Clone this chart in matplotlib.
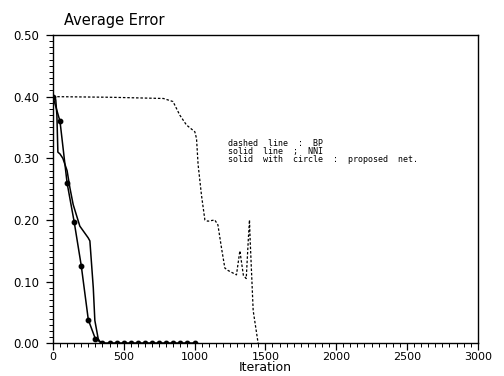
import numpy as np
import matplotlib
matplotlib.use("Agg")
from matplotlib import pyplot as plt
from matplotlib.ticker import MultipleLocator

# dashed line : BP
bp_iter = [0, 400, 780, 848, 896, 943, 1002, 1014, 1025, 1049, 1073, 1094, 1143,
           1165, 1190, 1214, 1237, 1296, 1320, 1345, 1365, 1380, 1388, 1392,
           1414, 1449]
bp_err = [0.40, 0.399, 0.397, 0.392, 0.37, 0.354, 0.343, 0.332, 0.29, 0.24,
          0.20, 0.198, 0.20, 0.192, 0.155, 0.122, 0.118, 0.111, 0.15, 0.11,
          0.105, 0.17, 0.20, 0.171, 0.053, 0.0]

# solid line : NNI
nni_iter = [0, 20, 28, 35, 50, 70, 100, 120, 143, 190, 249, 261, 273, 285, 296,
            320, 340, 1000]
nni_err = [0.40, 0.395, 0.37, 0.31, 0.307, 0.30, 0.28, 0.252, 0.225, 0.19,
           0.171, 0.166, 0.128, 0.09, 0.037, 0.007, 0.0, 0.0]

# solid with circle : proposed net.
prop_iter = [0, 50, 100, 150, 200, 250, 300, 350, 400, 450, 500, 550, 600, 650,
             700, 750, 800, 850, 900, 950, 1000]
prop_err = [0.40, 0.36, 0.26, 0.197, 0.126, 0.038, 0.007, 0, 0, 0, 0, 0, 0, 0,
            0, 0, 0, 0, 0, 0, 0]

legend_lines = ["dashed  line  :  BP",
                "solid  line  ;  NNI",
                "solid  with  circle  :  proposed  net."]

fig = plt.figure(figsize=(5.04, 3.76), dpi=100)
ax = fig.add_axes([0.105, 0.087, 0.843, 0.820])

ax.plot(bp_iter, bp_err, color="black", lw=0.9, linestyle=(0, (2, 1.5)))
ax.plot(nni_iter, nni_err, color="black", lw=1.1)
ax.plot(prop_iter, prop_err, color="black", lw=1.1, marker="o", markersize=3.2)

ax.set_xlim(0, 3000)
ax.set_ylim(0, 0.5)
ax.xaxis.set_major_locator(MultipleLocator(500))
ax.xaxis.set_minor_locator(MultipleLocator(50))
ax.yaxis.set_major_locator(MultipleLocator(0.1))
ax.yaxis.set_minor_locator(MultipleLocator(0.01))
ax.yaxis.set_major_formatter(matplotlib.ticker.FormatStrFormatter("%.2f"))

ax.tick_params(axis="both", which="major", direction="out", length=5, width=0.9,
               labelsize=8.5)
ax.tick_params(axis="both", which="minor", direction="out", length=3, width=0.7)
ax.tick_params(axis="y", which="major", pad=5)
ax.tick_params(axis="x", which="major", pad=1.5, labelsize=8)
for s in ax.spines.values():
    s.set_linewidth(1.0)

ax.set_xlabel("Iteration", fontsize=9, labelpad=-1)
fig.text(0.127, 0.945, "Average Error", fontsize=10.5, ha="left", va="center")

for i, t in enumerate(legend_lines):
    ax.text(1235, 0.3235 - i * 0.0125, t, fontsize=6, family="DejaVu Sans Mono",
            ha="left", va="center")

fig.savefig("out.png", dpi=100)
